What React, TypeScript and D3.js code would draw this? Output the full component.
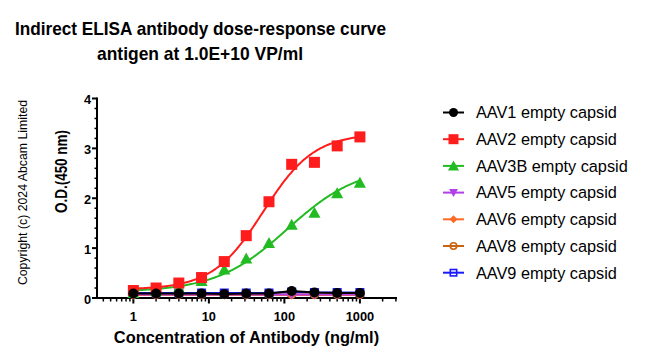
import React from "react";
import * as d3 from "d3";

const concentrations = [1, 2, 4, 8, 16, 31.25, 62.5, 125, 250, 500, 1000];
const seriesNames = ["AAV1 empty capsid", "AAV2 empty capsid", "AAV3B empty capsid", "AAV5 empty capsid", "AAV6 empty capsid", "AAV8 empty capsid", "AAV9 empty capsid"];
const aav1 = [0.09, 0.09, 0.09, 0.09, 0.08, 0.09, 0.09, 0.14, 0.11, 0.1, 0.1];
const aav2 = [0.15, 0.2, 0.3, 0.41, 0.73, 1.25, 1.93, 2.68, 2.72, 3.05, 3.23];
const aav3b = [0.1, 0.14, 0.2, 0.34, 0.57, 0.79, 1.1, 1.47, 1.71, 2.1, 2.31];
const aav5 = [0.07, 0.07, 0.07, 0.07, 0.07, 0.07, 0.07, 0.07, 0.07, 0.07, 0.07];
const aav6 = [0.06, 0.06, 0.06, 0.06, 0.06, 0.06, 0.06, 0.06, 0.06, 0.06, 0.06];
const aav8 = [0.07, 0.07, 0.07, 0.07, 0.07, 0.07, 0.07, 0.07, 0.07, 0.07, 0.07];
const aav9 = [0.1, 0.1, 0.1, 0.1, 0.1, 0.1, 0.1, 0.12, 0.11, 0.11, 0.11];
// 4PL fit parameters [bottom, top, EC50, hill] (null = straight connecting line)
const fitAav2 = [0.17, 3.3, 52.7, 1.29];
const fitAav3b = [0.12, 2.65, 110, 0.92];
const yTicks = [0, 1, 2, 3, 4];
const xTicks = [1, 10, 100, 1000];

const colors = ["#000000", "#ff1c1c", "#22bb22", "#b040e8", "#ff6a28", "#c8640f", "#1a1aff"];
const shapes = ["circle", "square", "triangle", "triangleDown", "diamond", "circleOpen", "squareOpen"];
const seriesValues = [aav1, aav2, aav3b, aav5, aav6, aav8, aav9];
const fits: (number[] | null)[] = [null, fitAav2, fitAav3b, null, null, null, null];

const W = 645, H = 363;
const x = d3.scaleLog().domain([0.32, 3100]).range([96, 397]);
const y = d3.scaleLinear().domain([0, 4]).range([298, 98.5]);

function Marker({ shape, cx, cy, color, size }: { shape: string; cx: number; cy: number; color: string; size: number }) {
  const s = size;
  switch (shape) {
    case "circle":
      return <circle cx={cx} cy={cy} r={s / 2} fill={color} />;
    case "square":
      return <rect x={cx - s / 2} y={cy - s / 2} width={s} height={s} fill={color} />;
    case "triangle":
      return <path d={`M${cx},${cy - s * 0.55}L${cx + s * 0.55},${cy + s * 0.45}L${cx - s * 0.55},${cy + s * 0.45}Z`} fill={color} />;
    case "triangleDown":
      return <path d={`M${cx},${cy + s * 0.55}L${cx + s * 0.55},${cy - s * 0.45}L${cx - s * 0.55},${cy - s * 0.45}Z`} fill={color} />;
    case "diamond":
      return <path d={`M${cx},${cy - s * 0.5}L${cx + s * 0.5},${cy}L${cx},${cy + s * 0.5}L${cx - s * 0.5},${cy}Z`} fill={color} />;
    case "circleOpen":
      return <circle cx={cx} cy={cy} r={s / 2 - 0.8} fill="none" stroke={color} strokeWidth={1.6} />;
    case "squareOpen":
      return <rect x={cx - s / 2 + 0.8} y={cy - s / 2 + 0.8} width={s - 1.6} height={s - 1.6} fill="none" stroke={color} strokeWidth={1.6} />;
  }
  return null;
}

const markerSizes = [10, 11, 11, 9, 9, 9, 9];

export default function App() {
  const line = d3.line<[number, number]>().x((d) => x(d[0])).y((d) => y(d[1]));
  const fitPath = (p: number[]) => {
    const [b, t, e, h] = p;
    const xs = d3.range(0, 201).map((i) => Math.pow(10, (i / 200) * 3));
    return line(xs.map((c) => [c, b + (t - b) / (1 + Math.pow(e / c, h))] as [number, number]));
  };
  const minor: number[] = [];
  for (let dec = -1; dec <= 3; dec++) {
    for (let k = 2; k <= 9; k++) {
      const v = k * Math.pow(10, dec);
      if (v >= 0.32 && v <= 3100) minor.push(v);
    }
  }
  const yMinor = d3.range(0, 4.001, 0.2).filter((v) => Math.abs(v - Math.round(v)) > 1e-6);
  const order = [6, 5, 4, 3, 2, 1, 0];
  const legendY0 = 112.5, legendStep = 26.7;
  return (
    <svg width={W} height={H} style={{ position: "absolute", left: 0, top: 0, background: "#fff" }} fontFamily="'Liberation Sans', Arial, sans-serif">
      <rect width={W} height={H} fill="#fff" />
      <text x={200.5} y={34.5} textAnchor="middle" fontWeight="bold" fontSize={19} textLength={371} lengthAdjust="spacingAndGlyphs">Indirect ELISA antibody dose-response curve</text>
      <text x={200} y={60} textAnchor="middle" fontWeight="bold" fontSize={19} textLength={206} lengthAdjust="spacingAndGlyphs">antigen at 1.0E+10 VP/ml</text>
      <text transform={`translate(27,192.5) rotate(-90)`} textAnchor="middle" fontSize={12.3}>Copyright (c) 2024 Abcam Limited</text>
      <text transform={`translate(66.5,171.5) rotate(-90)`} textAnchor="middle" fontWeight="bold" fontSize={16} textLength={83} lengthAdjust="spacingAndGlyphs">O.D.(450 nm)</text>
      <text x={246.5} y={343} textAnchor="middle" fontWeight="bold" fontSize={16.4}>Concentration of Antibody (ng/ml)</text>
      {/* axes */}
      <g stroke="#000" strokeWidth={2} fill="none">
        <line x1={97} x2={97} y1={y(4) - 1} y2={y(0) + 1} />
        <line x1={96} x2={397} y1={298} y2={298} />
        {yTicks.map((v) => <line key={"yt" + v} x1={92} x2={97} y1={y(v)} y2={y(v)} />)}
        {yMinor.map((v) => <line key={"ym" + v} x1={94.5} x2={97} y1={y(v)} y2={y(v)} strokeWidth={1.5} />)}
        {xTicks.map((v) => <line key={"xt" + v} x1={x(v)} x2={x(v)} y1={298} y2={303.5} />)}
        {minor.map((v) => <line key={"xm" + v} x1={x(v)} x2={x(v)} y1={298} y2={301.5} strokeWidth={1.5} />)}
      </g>
      {yTicks.map((v) => (
        <text key={"yl" + v} x={91} y={y(v) + 5.5} textAnchor="end" fontWeight="bold" fontSize={12.8}>{v}</text>
      ))}
      {xTicks.map((v) => (
        <text key={"xl" + v} x={x(v)} y={320.5} textAnchor="middle" fontWeight="bold" fontSize={12.8}>{v}</text>
      ))}
      {/* series */}
      {order.map((i) => {
        const vals = seriesValues[i];
        const f = fits[i];
        const d = f ? fitPath(f) : line(concentrations.map((c, j) => [c, vals[j]] as [number, number]));
        return (
          <g key={"s" + i}>
            <path d={d || ""} fill="none" stroke={colors[i]} strokeWidth={2} />
            {concentrations.map((c, j) => (
              <Marker key={j} shape={shapes[i]} cx={x(c)} cy={y(vals[j])} color={colors[i]} size={markerSizes[i]} />
            ))}
          </g>
        );
      })}
      {/* legend */}
      {seriesNames.map((n, i) => {
        const ly = legendY0 + i * legendStep;
        return (
          <g key={"lg" + i}>
            <line x1={443} x2={464} y1={ly} y2={ly} stroke={colors[i]} strokeWidth={2} />
            <Marker shape={shapes[i]} cx={453.5} cy={ly} color={colors[i]} size={markerSizes[i] - 1} />
            <text x={476} y={ly + 5.8} fontSize={16.3}>{n}</text>
          </g>
        );
      })}
    </svg>
  );
}
